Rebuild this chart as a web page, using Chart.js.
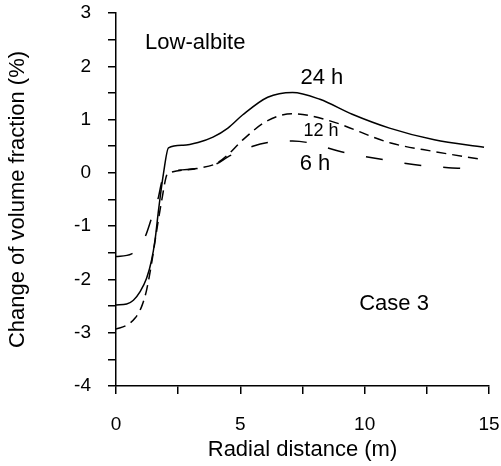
<!DOCTYPE html>
<html>
<head>
<meta charset="utf-8">
<script src="https://cdn.jsdelivr.net/npm/chart.js@4"></script>
<style>
  html, body { margin: 0; padding: 0; background: #ffffff; }
  #wrap { width: 501px; height: 466px; position: relative; }
</style>
</head>
<body>
<div id="wrap"><canvas id="volChart"></canvas></div>
<script>
// values (radial distance in m, change of volume fraction in %)
const dist24 = [0, 0.43, 0.7, 0.97, 1.23, 1.43, 1.57, 1.71, 1.91, 2.11, 2.7, 3.3, 3.9, 4.5, 5.1, 6.1, 7.1, 8.2, 9.5, 11.0, 12.8, 14.8];
const vol24  = [-2.48, -2.46, -2.39, -2.23, -1.98, -1.64, -1.26, -0.7, -0.01, 0.47, 0.52, 0.57, 0.67, 0.84, 1.09, 1.42, 1.51, 1.38, 1.1, 0.84, 0.62, 0.48];

const dist12 = [0, 0.43, 0.76, 1.03, 1.23, 1.43, 1.64, 1.84, 2.04, 2.11, 3.25, 4.05, 4.5, 5.1, 6.1, 7.1, 8.5, 11.05, 12.8, 14.6];
const vol12  = [-2.93, -2.86, -2.73, -2.51, -2.2, -1.7, -1.07, -0.51, -0.04, -0.01, 0.08, 0.18, 0.34, 0.62, 0.98, 1.11, 0.99, 0.56, 0.4, 0.26];

const dist6 = [0, 0.63, 1.17, 1.43, 1.71, 1.84, 2.04, 2.11, 3.25, 4.05, 4.5, 5.5, 6.1, 7.1, 9.3, 10.85, 12.4, 14.0, 14.5];
const vol6  = [-1.57, -1.52, -1.2, -0.85, -0.45, -0.17, -0.03, 0.0, 0.08, 0.17, 0.3, 0.5, 0.57, 0.6, 0.37, 0.24, 0.13, 0.08, 0.06];

const xTicksShown = [0, 5, 10, 15];
const yTicksShown = [-4, -3, -2, -1, 0, 1, 2, 3];

// text placed inside the plot, in data units
const noteText = ["Low-albite", "24 h", "12 h", "6 h", "Case 3"];
const noteX    = [1.17, 8.28, 8.24, 8.0, 11.18];
const noteY    = [2.44, 1.78, 0.79, 0.17, -2.46];

const toPoints = (xs, ys) => xs.map((x, i) => ({ x: x, y: ys[i] }));

const fontName = "'Liberation Sans', Arial, sans-serif";

const notesPlugin = {
    id: "notes",
    afterDatasetsDraw(chart) {
        const ctx = chart.ctx;
        const sx = chart.scales.x;
        const sy = chart.scales.y;
        ctx.save();
        ctx.fillStyle = "#000000";
        ctx.textBaseline = "middle";
        noteText.forEach((txt, i) => {
            const size = txt === "12 h" ? 18 : 22;
            ctx.font = size + "px " + fontName;
            ctx.textAlign = i === 0 ? "left" : "center";
            ctx.fillText(txt, sx.getPixelForValue(noteX[i]), sy.getPixelForValue(noteY[i]));
        });
        ctx.restore();
    }
};

const lineStyle = {
    borderColor: "#000000",
    borderWidth: 1.5,
    pointRadius: 0,
    fill: false,
    showLine: true,
    cubicInterpolationMode: "monotone"
};

new Chart(document.getElementById("volChart"), {
    type: "scatter",
    data: {
        datasets: [
            Object.assign({ label: "24 h", data: toPoints(dist24, vol24) }, lineStyle),
            Object.assign({ label: "12 h", data: toPoints(dist12, vol12), borderDash: [10, 6] }, lineStyle),
            Object.assign({ label: "6 h", data: toPoints(dist6, vol6), borderDash: [17, 22] }, lineStyle)
        ]
    },
    options: {
        responsive: true,
        maintainAspectRatio: false,
        animation: false,
        layout: { padding: { top: 13, right: 12, left: 0, bottom: 0 } },
        plugins: {
            legend: { display: false },
            tooltip: { enabled: false }
        },
        scales: {
            x: {
                type: "linear",
                min: 0,
                max: 15,
                ticks: {
                    stepSize: 2.5,
                    color: "#000000",
                    padding: 19,
                    maxRotation: 0,
                    font: { size: 19, family: fontName },
                    callback: v => xTicksShown.includes(v) ? String(v) : ""
                },
                grid: { drawOnChartArea: false, drawTicks: true, tickLength: 8, color: "#000000", lineWidth: 1.5 },
                border: { display: true, color: "#000000", width: 1.5 },
                title: {
                    display: true,
                    text: "Radial distance (m)",
                    color: "#000000",
                    font: { size: 22, family: fontName },
                    padding: { top: 0, bottom: 3 }
                },
                afterFit: scale => {
                    scale.height = 80;
                    scale.paddingLeft = 0;
                    scale.paddingRight = 0;
                }
            },
            y: {
                type: "linear",
                min: -4,
                max: 3,
                ticks: {
                    stepSize: 0.5,
                    color: "#000000",
                    padding: 17,
                    font: { size: 19, family: fontName },
                    callback: v => yTicksShown.includes(v) ? String(v) : ""
                },
                grid: { drawOnChartArea: false, drawTicks: true, tickLength: 8, color: "#000000", lineWidth: 1.5 },
                border: { display: true, color: "#000000", width: 1.5 },
                title: {
                    display: true,
                    text: "Change of volume fraction (%)",
                    color: "#000000",
                    font: { size: 22, family: fontName },
                    padding: { top: 5, bottom: 0 }
                },
                afterFit: scale => {
                    scale.width = 116;
                    scale.paddingTop = 0;
                    scale.paddingBottom = 0;
                }
            }
        }
    },
    plugins: [notesPlugin]
});
</script>
</body>
</html>
